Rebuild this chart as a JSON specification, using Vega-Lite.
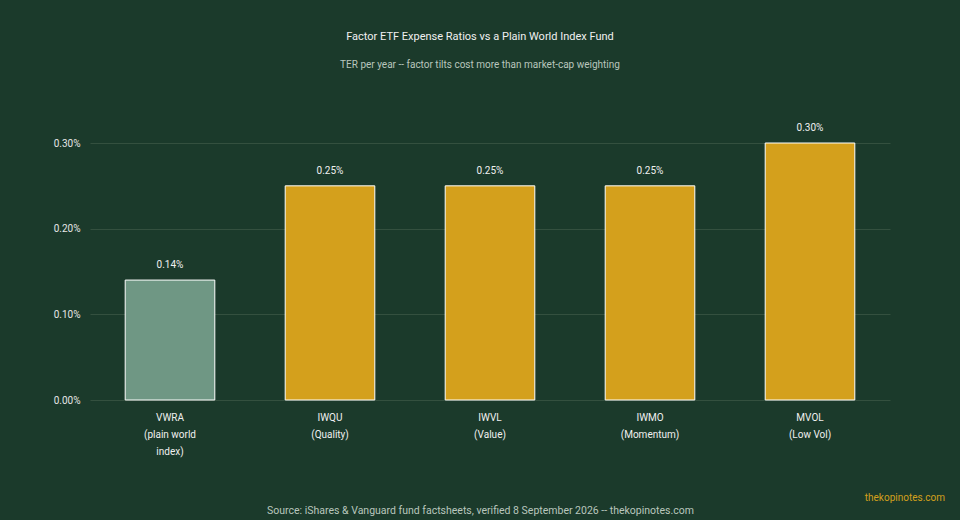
{
  "$schema": "https://vega.github.io/schema/vega-lite/v6.json",
  "width": 800,
  "height": 257,
  "autosize": "none",
  "padding": {"left": 90, "top": 143, "right": 70, "bottom": 120},
  "background": "#1b3a2b",
  "title": {
    "text": "Factor ETF Expense Ratios vs a Plain World Index Fund",
    "subtitle": "TER per year -- factor tilts cost more than market-cap weighting",
    "anchor": "middle",
    "dx": -10,
    "offset": 53,
    "subtitlePadding": 18,
    "font": "Roboto",
    "fontSize": 11,
    "fontWeight": "normal",
    "color": "#f0f0f0",
    "subtitleFont": "Roboto",
    "subtitleFontSize": 10,
    "subtitleColor": "#b9c6bd"
  },
  "config": {
    "font": "Roboto",
    "view": {"stroke": null},
    "axis": {
      "labelFont": "Roboto",
      "titleFont": "Roboto",
      "labelColor": "#e6e6e6",
      "gridColor": "#34503f",
      "domain": false,
      "ticks": false
    }
  },
  "data": {
    "values": [
      {"fund": "VWRA", "label": "VWRA|(plain world|index)", "ter": 0.14, "kind": "world"},
      {"fund": "IWQU", "label": "IWQU|(Quality)", "ter": 0.25, "kind": "factor"},
      {"fund": "IWVL", "label": "IWVL|(Value)", "ter": 0.25, "kind": "factor"},
      {"fund": "IWMO", "label": "IWMO|(Momentum)", "ter": 0.25, "kind": "factor"},
      {"fund": "MVOL", "label": "MVOL|(Low Vol)", "ter": 0.30, "kind": "factor"}
    ]
  },
  "encoding": {
    "x": {
      "field": "label",
      "type": "nominal",
      "sort": null,
      "scale": {"paddingInner": 0.44, "paddingOuter": 0.22},
      "axis": {
        "title": "Source: iShares & Vanguard fund factsheets, verified 8 September 2026 -- thekopinotes.com",
        "titleFontSize": 10.5,
        "titleFontWeight": "normal",
        "titleColor": "#b9c6bd",
        "titleX": 390,
        "titleY": 105,
        "titleBaseline": "top",
        "labelAngle": 0,
        "labelFontSize": 10,
        "labelColor": "#f0f0f0",
        "labelPadding": 12,
        "labelLineHeight": 17,
        "labelExpr": "split(datum.label, '|')",
        "grid": false
      }
    },
    "y": {
      "field": "ter",
      "type": "quantitative",
      "scale": {"domain": [0, 0.3], "nice": false},
      "axis": {
        "title": null,
        "values": [0, 0.1, 0.2, 0.3],
        "labelExpr": "format(datum.value, '.2f') + '%'",
        "labelFontSize": 10,
        "labelPadding": 10
      }
    }
  },
  "layer": [
    {
      "mark": {"type": "bar", "stroke": "#ffffff", "strokeWidth": 1},
      "encoding": {
        "color": {
          "field": "kind",
          "type": "nominal",
          "scale": {"domain": ["world", "factor"], "range": ["#6f9784", "#d4a01c"]},
          "legend": null
        }
      }
    },
    {
      "transform": [{"calculate": "format(datum.ter, '.2f') + '%'", "as": "ter_label"}],
      "mark": {"type": "text", "baseline": "bottom", "dy": -10, "fontSize": 10, "color": "#f0f0f0"},
      "encoding": {
        "text": {"field": "ter_label", "type": "nominal"}
      }
    },
    {
      "data": {"values": [{"brand": "thekopinotes.com"}]},
      "mark": {"type": "text", "align": "right", "baseline": "middle", "fontSize": 10, "color": "#d4a01c"},
      "encoding": {
        "text": {"field": "brand"},
        "x": {"value": 855},
        "y": {"value": 355}
      }
    }
  ]
}
